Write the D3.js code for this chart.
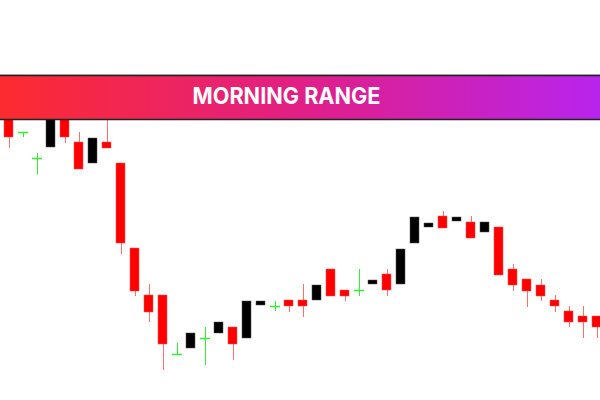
<!DOCTYPE html>
<html>
<head>
<meta charset="utf-8">
<script src="https://cdn.jsdelivr.net/npm/d3@7"></script>
<style>
  body { margin: 0; background: #fff; }
  svg { display: block; }
</style>
</head>
<body>
<script>
// candle values (price units, higher = up)
var opens  = [295,268,242,253,290,258,237,258,237,152,105,105,46,52,62,67,73,62,95,94,100,100,100,131,110,110,116,126,116,157,173,184,179,178,168,173,131,121,115,100,89,84,84];
var closes = [263,268,242,290,263,231,262,252,157,109,88,56,46,67,62,78,56,99,99,94,94,94,115,104,104,110,120,110,151,183,177,172,183,162,178,125,115,109,104,94,78,78,73];
var highs  = [300,268,247,290,290,268,262,290,237,152,116,105,57,67,73,78,73,99,99,99,100,116,115,131,110,131,120,131,151,183,177,189,183,184,178,173,136,121,121,105,94,94,84];
var lows   = [252,263,226,253,257,231,237,252,146,104,78,30,46,52,35,67,40,62,95,89,88,83,100,104,99,104,116,104,116,157,173,172,179,162,168,125,109,93,99,88,73,62,62];
var bannerText = "MORNING RANGE";

var width = 600, height = 400;

var svg = d3.select("body").append("svg")
    .attr("width", width)
    .attr("height", height);

var idx = d3.range(opens.length);

var x = d3.scaleBand()
    .domain(idx)
    .range([1.7, 1.7 + 14 * opens.length])
    .paddingInner(0.36)
    .paddingOuter(0.18);

var y = d3.scaleLinear()
    .domain([0, 400])
    .range([400, 0]);

function col(i) {
  if (closes[i] > opens[i]) return "#000";
  if (closes[i] < opens[i]) return "#ff0000";
  return "#33ee33";
}

var g = svg.append("g");

// wicks
g.selectAll("line.wick")
  .data(idx)
  .join("line")
    .attr("class", "wick")
    .attr("x1", d => Math.round(x(d) + x.bandwidth() / 2) + 0.5)
    .attr("x2", d => Math.round(x(d) + x.bandwidth() / 2) + 0.5)
    .attr("y1", d => y(highs[d]))
    .attr("y2", d => y(lows[d]))
    .attr("stroke", d => closes[d] == opens[d] ? "#33ee33" : (closes[d] < opens[d] ? "#ff7070" : "#444"))
    .attr("stroke-width", 1);

// bodies
var bodies = idx.filter(d => closes[d] != opens[d]);
g.selectAll("rect.body")
  .data(bodies)
  .join("rect")
    .attr("class", "body")
    .attr("x", d => Math.round(x(d)))
    .attr("y", d => y(Math.max(opens[d], closes[d])))
    .attr("width", Math.round(x.bandwidth()))
    .attr("height", d => Math.abs(y(opens[d]) - y(closes[d])))
    .attr("fill", col)
    .attr("stroke", d => closes[d] > opens[d] ? "#555" : "#ff5050")
    .attr("stroke-width", 0.5);

// doji ticks
var dojis = idx.filter(d => closes[d] == opens[d]);
g.selectAll("line.doji")
  .data(dojis)
  .join("line")
    .attr("class", "doji")
    .attr("x1", d => Math.round(x(d)))
    .attr("x2", d => Math.round(x(d)) + Math.round(x.bandwidth()) + 1)
    .attr("y1", d => Math.round(y(opens[d])) + 0.5)
    .attr("y2", d => Math.round(y(opens[d])) + 0.5)
    .attr("stroke", "#33ee33")
    .attr("stroke-width", 1.5);

// banner on top
var defs = svg.append("defs");
var grad = defs.append("linearGradient")
    .attr("id", "bannerGrad")
    .attr("x1", "0%").attr("x2", "100%")
    .attr("y1", "0%").attr("y2", "0%");
grad.append("stop").attr("offset", "0%").attr("stop-color", "#fd2b2e");
grad.append("stop").attr("offset", "50%").attr("stop-color", "#e11f86");
grad.append("stop").attr("offset", "100%").attr("stop-color", "#b824ee");

svg.append("line")
    .attr("x1", 0).attr("x2", width)
    .attr("y1", 74.5).attr("y2", 74.5)
    .attr("stroke", "#ccc");

svg.append("rect")
    .attr("x", -2)
    .attr("y", 75.5)
    .attr("width", width + 4)
    .attr("height", 44)
    .attr("fill", "url(#bannerGrad)")
    .attr("stroke", "#222")
    .attr("stroke-width", 1.5);

svg.append("text")
    .attr("x", 286.5)
    .attr("y", 103.5)
    .attr("text-anchor", "middle")
    .attr("fill", "#fff")
    .attr("textLength", 188)
    .attr("lengthAdjust", "spacingAndGlyphs")
    .style("font-family", "Inter, 'Open Sans', sans-serif")
    .style("font-weight", "700")
    .style("font-size", "23px")
    .text(bannerText);
</script>
</body>
</html>
